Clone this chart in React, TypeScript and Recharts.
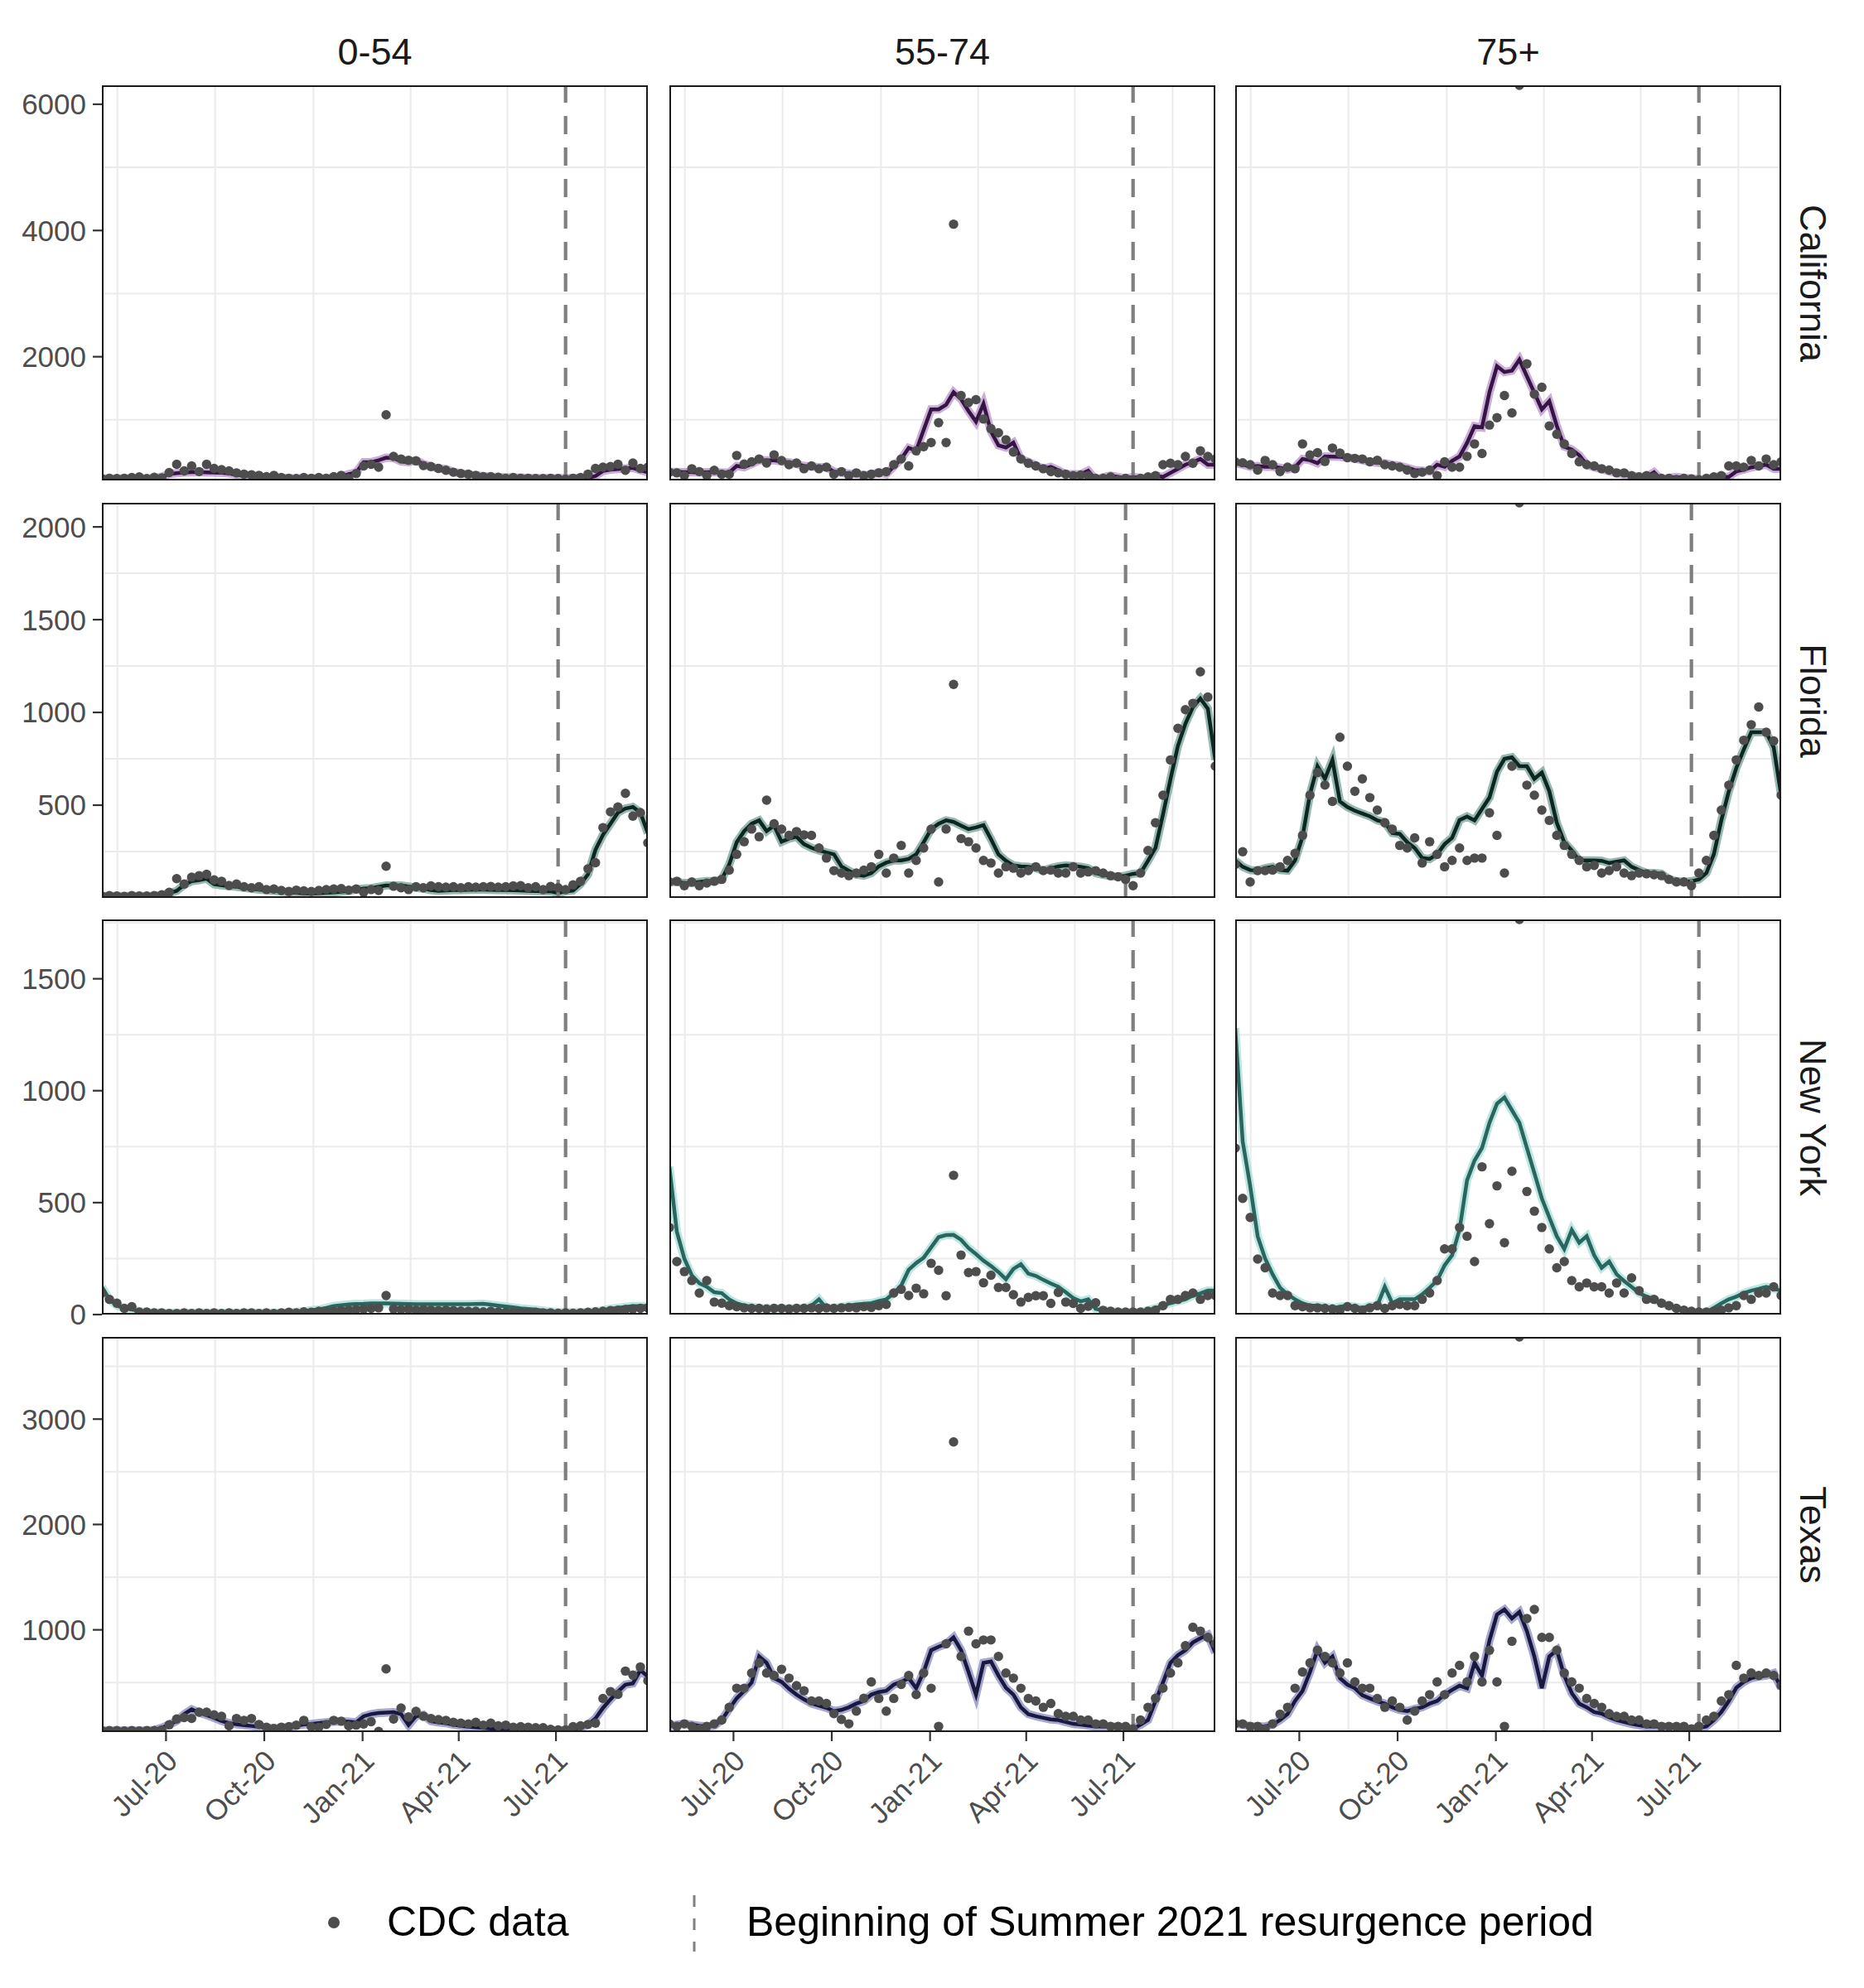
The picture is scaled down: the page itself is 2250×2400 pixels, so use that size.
import React from 'react';
import { ComposedChart, Line, Scatter, XAxis, YAxis, CartesianGrid, ReferenceLine } from 'recharts';

const FONT = '"Liberation Sans", Arial, Helvetica, sans-serif';

// weekly dates, day 0 = 2 May 2020
const weekDays = Array.from({ length: 74 }, (_, i) => i * 7);

const ageGroups = ['0-54', '55-74', '75+'];
const stateNames = ['California', 'Florida', 'New York', 'Texas'];

const xTickDays = [60, 152, 244, 334, 425];
const xTickLabels = ['Jul-20', 'Oct-20', 'Jan-21', 'Apr-21', 'Jul-21'];
const xMinorDays = [14.5, 106, 198, 289, 379.5, 471];
const xDomain = [0, 511];

// start of summer 2021 resurgence (days since 2 May 2020)
const summerStart = [434, 427, 434, 434];

const yTicksCA = [2000, 4000, 6000];
const yTicksFL = [500, 1000, 1500, 2000];
const yTicksNY = [0, 500, 1000, 1500];
const yTicksTX = [1000, 2000, 3000];
const yMinorCA = [1000, 3000, 5000];
const yMinorFL = [250, 750, 1250, 1750];
const yMinorNY = [250, 750, 1250, 1750];
const yMinorTX = [500, 1500, 2500, 3500];
const yDomainCA = [40, 6300];
const yDomainFL = [0, 2130];
const yDomainNY = [0, 1765];
const yDomainTX = [30, 3780];

// ---- California
const ca054Model = [68,68,68,68,68,68,70,72,100,140,155,165,170,170,168,165,160,150,130,120,110,100,90,85,80,75,72,70,70,70,70,75,100,140,165,330,330,360,400,395,340,330,360,300,260,230,220,175,150,130,120,110,100,95,90,85,85,80,78,75,75,75,75,75,78,80,110,190,210,220,230,240,200,170];
const ca054Cdc = [68,75,70,75,85,95,70,90,80,165,295,190,270,180,295,230,210,190,160,140,130,120,100,120,85,75,70,85,75,85,75,100,120,75,150,270,295,250,1080,420,380,360,350,275,260,230,200,170,150,140,120,100,100,90,75,85,75,75,70,70,75,70,60,75,85,140,230,250,260,295,200,315,230,250];
const ca5574Model = [175,175,170,170,165,170,170,165,165,270,250,300,357,357,357,340,326,300,270,260,250,250,180,160,150,140,130,125,170,140,260,380,555,510,840,1166,1166,1240,1437,1330,1140,970,1254,816,597,562,640,378,335,280,225,256,200,138,138,138,195,50,90,116,95,72,95,80,72,116,95,160,225,290,330,380,290,290];
const ca5574Cdc = [170,160,115,225,180,115,200,140,140,435,300,335,380,315,445,355,290,315,225,270,225,250,140,180,115,160,115,140,160,180,290,380,270,510,575,640,955,640,4100,1385,1275,1320,1013,860,795,685,490,380,313,270,225,180,160,140,115,125,115,72,72,95,50,72,50,72,95,116,290,313,290,420,313,510,420,380];
const ca75Model = [313,290,256,270,256,256,240,212,250,380,360,313,420,416,414,400,387,360,335,320,313,290,270,240,204,195,182,290,256,350,420,635,900,880,1440,1850,1757,1779,1954,1690,1430,1166,1298,904,575,530,440,290,247,220,182,160,130,116,100,95,169,50,80,95,80,72,60,50,95,95,95,182,210,247,270,290,225,225];
const ca75Cdc = [335,320,290,204,357,290,182,250,225,619,444,480,340,554,475,400,390,380,335,360,290,270,250,204,150,170,204,116,335,250,250,422,619,466,917,1035,1385,1110,6300,1888,1407,1516,904,772,619,466,335,290,270,225,204,160,160,116,95,116,95,72,72,50,72,65,50,72,95,116,270,270,250,357,270,380,290,335];

// ---- Florida
const fl054Model = [10,10,10,10,10,10,10,10,15,25,38,70,90,96,104,74,68,64,60,55,50,45,42,38,35,31,28,25,24,26,28,30,34,38,45,50,53,60,67,67,67,62,55,50,42,38,40,42,42,43,45,45,43,42,42,41,40,38,37,36,35,27,35,40,75,127,260,340,400,460,482,490,460,349];
const fl054Cdc = [10,12,10,8,12,10,10,12,17,30,104,75,112,120,127,97,90,67,75,60,55,60,45,48,40,35,42,38,35,40,45,48,50,42,48,30,45,40,171,63,55,45,60,55,65,60,58,60,55,60,58,60,62,58,60,65,66,55,60,45,62,55,45,70,90,157,190,379,464,490,564,441,460,297];
const fl5574Model = [86,86,80,80,86,90,90,100,180,300,360,400,418,360,390,303,320,330,290,270,256,245,235,170,147,125,120,134,170,190,202,202,210,235,300,371,400,418,410,390,371,380,392,317,235,200,175,170,168,160,147,160,170,175,172,168,160,134,125,118,114,120,130,134,200,270,450,640,820,940,1029,1075,1020,744];
const fl5574Cdc = [86,90,66,86,66,80,90,100,150,235,303,371,330,527,400,371,337,358,340,337,269,215,147,134,120,134,150,168,235,134,215,283,134,202,269,371,86,371,1151,320,303,269,202,188,134,168,160,134,147,168,147,150,134,134,168,134,140,147,134,120,114,100,66,134,256,405,554,744,914,1015,1049,1219,1083,710];
const fl75Model = [202,168,150,147,160,168,150,147,202,330,560,710,642,744,520,490,470,455,440,418,408,350,345,300,269,215,210,235,290,324,420,439,418,480,541,680,750,758,710,710,642,676,575,405,300,256,202,202,202,200,188,195,202,168,150,134,134,130,100,90,86,90,100,134,235,418,575,700,800,893,893,893,812,554];
const fl75Cdc = [181,249,86,147,147,150,168,202,240,337,554,676,608,520,866,710,575,642,541,473,405,371,283,269,324,188,303,235,168,202,269,202,215,215,459,337,134,710,2130,608,554,473,418,337,283,235,202,168,175,134,147,168,134,120,134,130,125,120,100,86,86,66,134,202,337,473,608,744,850,934,1029,893,846,554];

// ---- New York
const ny054Model = [124,68,40,28,23,15,11,10,8,8,8,8,8,8,8,8,8,8,8,8,8,8,8,8,8,10,12,15,20,23,30,38,42,45,47,48,50,50,50,49,48,47,46,46,46,46,46,46,46,46,47,48,44,40,36,32,28,25,22,18,14,11,11,11,11,11,15,20,26,30,34,38,38,38];
const ny054Cdc = [96,68,51,28,35,11,11,8,8,5,5,8,5,8,5,8,5,8,5,8,8,5,8,5,8,10,8,12,10,15,12,15,18,20,22,25,28,30,85,25,22,25,20,22,20,18,20,18,16,15,15,12,15,12,10,12,10,8,10,8,8,6,8,6,8,10,12,15,18,20,22,25,28,30];
const ny5574Model = [660,370,250,175,140,124,100,96,68,50,40,35,30,28,28,28,28,28,30,40,68,28,30,35,40,45,48,51,60,68,95,130,200,230,254,300,346,355,356,334,297,270,241,217,190,158,204,225,183,173,155,139,124,100,74,59,68,25,19,15,12,10,11,11,20,28,40,51,60,68,85,95,107,107];
const ny5574Cdc = [389,237,192,152,96,152,56,51,40,35,30,28,28,25,28,28,25,28,28,30,28,30,28,30,32,30,35,32,40,45,96,113,85,118,93,229,198,84,622,266,188,192,142,176,121,121,89,56,77,84,84,50,99,56,50,28,37,53,19,15,11,11,11,11,15,20,40,68,68,85,96,68,85,85];
const ny75Model = [1280,773,575,350,250,180,120,90,68,50,40,40,35,28,35,40,35,28,40,40,124,51,68,68,68,90,120,152,220,265,380,600,688,744,857,942,970,913,857,744,632,519,434,350,293,378,321,350,265,209,237,180,150,124,96,80,68,51,40,28,15,11,11,11,30,50,68,80,96,107,115,124,115,107];
const ny75Cdc = [744,519,434,248,209,96,85,85,40,35,30,30,28,25,20,35,28,20,30,40,28,40,45,40,40,68,96,152,293,293,389,350,237,660,406,575,321,640,1765,550,462,389,293,209,237,152,124,141,124,124,96,141,96,164,107,68,68,51,40,28,20,15,11,11,15,20,30,40,85,68,96,96,124,85];

// ---- Texas
const tx054Model = [44,44,44,44,44,44,46,50,70,100,135,200,245,215,190,165,135,115,105,94,88,81,72,63,70,76,90,102,107,115,122,128,133,128,122,180,200,211,215,219,201,96,180,193,133,122,115,100,89,82,76,70,63,63,63,60,55,50,48,44,44,45,50,58,72,100,160,258,340,414,479,492,617,557];
const tx054Cdc = [44,44,44,40,44,40,44,44,50,100,154,167,159,219,219,193,180,89,159,141,159,102,76,63,76,81,96,141,81,76,102,141,133,89,96,107,128,36,630,154,258,174,226,180,159,148,141,122,115,107,122,96,115,89,96,76,81,76,71,71,55,50,50,81,89,102,115,349,414,388,609,570,648,518];
const tx5574Model = [84,100,108,100,90,84,90,144,250,350,420,500,747,687,542,506,440,385,340,301,280,260,229,240,265,300,325,385,410,422,480,506,542,446,600,807,840,867,928,807,600,385,687,700,566,450,385,265,200,180,165,150,144,125,108,100,90,84,84,84,75,70,60,100,144,325,500,687,760,807,880,920,952,783];
const tx5574Cdc = [108,84,108,84,60,84,108,144,265,446,446,590,687,590,566,626,542,470,422,325,325,301,205,150,108,229,350,506,349,229,349,482,566,385,590,446,84,867,2783,747,988,867,904,904,747,590,542,446,349,325,265,301,205,180,180,144,144,108,108,84,84,84,60,144,265,350,446,590,687,850,1024,988,928,867];
const tx75Model = [108,100,84,84,84,100,144,200,325,420,600,807,687,747,542,480,446,380,349,320,300,265,240,229,250,265,300,325,385,430,470,446,687,566,900,1145,1193,1108,1169,988,747,446,747,807,566,400,300,265,220,205,170,144,125,108,95,84,84,84,75,70,65,60,70,84,144,220,325,450,506,542,556,566,590,446];
const tx75Cdc = [108,108,84,84,60,108,200,265,446,600,687,807,747,687,590,687,506,446,446,349,265,325,265,144,229,325,385,506,385,590,663,506,747,506,807,506,84,892,3780,1108,1193,928,928,807,590,506,446,349,301,265,205,180,180,144,144,108,108,84,84,84,84,60,84,144,180,325,385,663,542,590,566,590,566,470];

const lineColors = ['#361545', '#0d2621', '#2a665e', '#19183f'];
const ribbonColors = ['#b48ac8', '#6a9a8e', '#9fdcd4', '#8080bb'];

const rows = [
  { ticks: yTicksCA, minor: yMinorCA, domain: yDomainCA, model: [ca054Model, ca5574Model, ca75Model], cdc: [ca054Cdc, ca5574Cdc, ca75Cdc] },
  { ticks: yTicksFL, minor: yMinorFL, domain: yDomainFL, model: [fl054Model, fl5574Model, fl75Model], cdc: [fl054Cdc, fl5574Cdc, fl75Cdc] },
  { ticks: yTicksNY, minor: yMinorNY, domain: yDomainNY, model: [ny054Model, ny5574Model, ny75Model], cdc: [ny054Cdc, ny5574Cdc, ny75Cdc] },
  { ticks: yTicksTX, minor: yMinorTX, domain: yDomainTX, model: [tx054Model, tx5574Model, tx75Model], cdc: [tx054Cdc, tx5574Cdc, tx75Cdc] },
];

// layout (px)
const COL_LEFT = [123, 808, 1491];
const ROW_TOP = [103, 607, 1110, 1614];
const PANEL_W = 659;
const PANEL_H = 477;
const Y_AXIS_W = 123;
const X_AXIS_H = 140;
const PAD_B = 24; // room under rows without x axis so the lowest y label is not cut

const XTick = (props: any) => {
  const { x, y, payload } = props;
  const label = xTickLabels[xTickDays.indexOf(payload.value)];
  const ax = x + 16;
  const ay = y + 24;
  return (
    <text x={ax} y={ay} transform={`rotate(-45, ${ax}, ${ay})`} textAnchor="end" fontSize={35} fill="#4d4d4d" fontFamily={FONT}>
      {label}
    </text>
  );
};

const Dot = (props: any) => <circle cx={props.cx} cy={props.cy} r={5.7} fill="#4d4d4d" />;

function Panel({ r, c }: { r: number; c: number }) {
  const row = rows[r];
  const model = row.model[c];
  const cdc = row.cdc[c];
  const data = weekDays.map((d, i) => ({ day: d, model: model[i], cdc: cdc[i] }));
  const showY = c === 0;
  const showX = r === 3;
  const left = COL_LEFT[c] - (showY ? Y_AXIS_W : 0);
  const width = PANEL_W + (showY ? Y_AXIS_W : 0);
  const height = PANEL_H + (showX ? X_AXIS_H : PAD_B);
  return (
    <div style={{ position: 'absolute', left, top: ROW_TOP[r], width, height }}>
      <ComposedChart width={width} height={height} data={data} margin={{ top: 0, right: 0, bottom: showX ? 0 : PAD_B, left: 0 }}>
        <CartesianGrid horizontalValues={row.minor} verticalValues={xMinorDays} stroke="#ebebeb" strokeWidth={2} />
        <XAxis
          type="number"
          dataKey="day"
          domain={xDomain}
          allowDataOverflow
          hide={!showX}
          ticks={xTickDays}
          interval={0}
          height={X_AXIS_H}
          tickSize={11}
          tickLine={{ stroke: '#333333', strokeWidth: 2.2 }}
          axisLine={false}
          tick={<XTick />}
        />
        <YAxis
          type="number"
          domain={row.domain}
          allowDataOverflow
          hide={!showY}
          ticks={row.ticks}
          interval={0}
          width={Y_AXIS_W}
          tickSize={11}
          tickMargin={8}
          tickLine={{ stroke: '#333333', strokeWidth: 2.2 }}
          axisLine={false}
          tick={{ fill: '#4d4d4d', fontSize: 35, fontFamily: FONT }}
        />
        <Line key="ribbon" dataKey="model" stroke={ribbonColors[r]} strokeOpacity={0.7} strokeWidth={10} dot={false} activeDot={false} isAnimationActive={false} />
        <Line key="model" dataKey="model" stroke={lineColors[r]} strokeWidth={4.5} dot={false} activeDot={false} isAnimationActive={false} />
        <Scatter dataKey="cdc" shape={Dot} isAnimationActive={false} />
        <ReferenceLine x={summerStart[r]} stroke="#7f7f7f" strokeWidth={4.2} strokeDasharray="22 16" />
      </ComposedChart>
      <div
        style={{
          position: 'absolute',
          left: showY ? Y_AXIS_W : 0,
          top: 0,
          width: PANEL_W,
          height: PANEL_H,
          border: '2px solid #1a1a1a',
          boxSizing: 'border-box',
          pointerEvents: 'none',
        }}
      />
    </div>
  );
}

export default function App() {
  return (
    <div style={{ position: 'absolute', left: 0, top: 0, width: 2250, height: 2400, background: '#fff', fontFamily: FONT }}>
      {ageGroups.map((a, c) => (
        <div key={a} style={{ position: 'absolute', left: COL_LEFT[c], top: 40, width: PANEL_W, textAlign: 'center', fontSize: 45, lineHeight: '45px', color: '#1a1a1a' }}>
          {a}
        </div>
      ))}
      {stateNames.map((s, r) => (
        <div
          key={s}
          style={{
            position: 'absolute',
            left: 2188,
            top: ROW_TOP[r] + PANEL_H / 2,
            transform: 'translate(-50%, -50%) rotate(90deg)',
            whiteSpace: 'nowrap',
            fontSize: 45,
            lineHeight: '45px',
            color: '#1a1a1a',
          }}
        >
          {s}
        </div>
      ))}
      {rows.map((_, r) => ageGroups.map((a, c) => <Panel key={`${r}-${c}`} r={r} c={c} />))}

      {/* legend */}
      <svg style={{ position: 'absolute', left: 380, top: 2280, overflow: 'visible' }} width={480} height={80}>
        <circle cx={23} cy={41} r={7} fill="#4d4d4d" />
        <line x1={458} x2={458} y1={8} y2={76} stroke="#808080" strokeWidth={3} strokeDasharray="14 14" />
      </svg>
      <div style={{ position: 'absolute', left: 467, top: 2295, fontSize: 50, lineHeight: '50px', color: '#000' }}>CDC data</div>
      <div style={{ position: 'absolute', left: 901, top: 2295, fontSize: 50, lineHeight: '50px', color: '#000', whiteSpace: 'nowrap' }}>
        Beginning of Summer 2021 resurgence period
      </div>
    </div>
  );
}
